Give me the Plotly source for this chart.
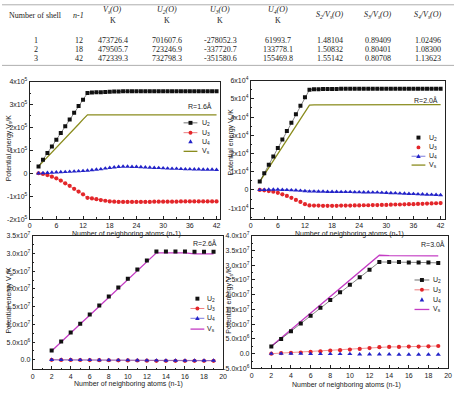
import plotly.graph_objects as go

W, H = 458, 393

# ---------------- table data ----------------
shell = ["1", "2", "3"]
n_minus_1 = ["12", "18", "42"]
Vs_O = ["473726.4", "479505.7", "472339.3"]
U2_O = ["701607.6", "723246.9", "732798.3"]
U3_O = ["-278052.3", "-337720.7", "-351580.6"]
U4_O = ["61993.7", "133778.1", "155469.8"]
S2_Vs = ["1.48104", "1.50832", "1.55142"]
S3_Vs = ["0.89409", "0.80401", "0.80708"]
S4_Vs = ["1.02496", "1.08300", "1.13623"]

# ---------------- chart data ----------------
n_top = list(range(2, 43))
n_bot = list(range(2, 20))

# R = 1.6 A  (units of 1e5 K)
u2_16 = [0.30, 0.59, 0.88, 1.17, 1.46, 1.76, 2.05, 2.35, 2.64, 2.93, 3.21, 3.50,
         3.52, 3.53, 3.54, 3.55, 3.56, 3.57, 3.57, 3.58, 3.58, 3.58, 3.58, 3.58, 3.58,
         3.58, 3.58, 3.58, 3.58, 3.58, 3.58, 3.58, 3.58, 3.58, 3.58, 3.58, 3.58, 3.58,
         3.58, 3.58, 3.58]
u3_16 = [0.00, -0.03, -0.08, -0.15, -0.22, -0.32, -0.44, -0.55, -0.68, -0.80, -0.92, -1.07,
         -1.10, -1.13, -1.17, -1.20, -1.23, -1.24, -1.25, -1.25, -1.25, -1.25, -1.25, -1.25,
         -1.25, -1.25, -1.24, -1.24, -1.24, -1.24, -1.24, -1.24, -1.23, -1.23, -1.23, -1.23,
         -1.23, -1.23, -1.23, -1.23, -1.23]
u4_16 = [0.00, 0.01, 0.02, 0.03, 0.04, 0.05, 0.06, 0.07, 0.08, 0.09, 0.10, 0.12,
         0.14, 0.16, 0.18, 0.21, 0.24, 0.26, 0.28, 0.29, 0.29, 0.28, 0.28, 0.27, 0.26,
         0.25, 0.24, 0.23, 0.22, 0.21, 0.20, 0.20, 0.19, 0.18, 0.18, 0.17, 0.17, 0.16,
         0.16, 0.16, 0.15]
vs_16 = [0.30, 0.50, 0.71, 0.91, 1.12, 1.32, 1.53, 1.73, 1.94, 2.14, 2.35, 2.55,
         2.55, 2.55, 2.56, 2.56, 2.57, 2.57, 2.57, 2.58, 2.58, 2.58, 2.58, 2.57, 2.57,
         2.57, 2.56, 2.56, 2.56, 2.56, 2.56, 2.56, 2.56, 2.56, 2.56, 2.56, 2.56, 2.56,
         2.55, 2.55, 2.55]

# R = 2.0 A  (units of 1e4 K)
u2_20 = [0.46, 0.92, 1.38, 1.84, 2.30, 2.77, 3.23, 3.69, 4.15, 4.62, 5.08, 5.50,
         5.52, 5.53, 5.54, 5.54, 5.54, 5.54, 5.55, 5.55, 5.55, 5.55, 5.55, 5.55, 5.55,
         5.55, 5.55, 5.55, 5.55, 5.55, 5.55, 5.55, 5.55, 5.55, 5.55, 5.55, 5.55, 5.55,
         5.55, 5.55, 5.55]
u3_20 = [0.00, -0.02, -0.06, -0.10, -0.16, -0.24, -0.33, -0.43, -0.55, -0.66, -0.78, -0.85,
         -0.86, -0.86, -0.87, -0.87, -0.87, -0.87, -0.86, -0.86, -0.86, -0.85, -0.85, -0.84,
         -0.84, -0.83, -0.83, -0.82, -0.82, -0.81, -0.80, -0.80, -0.79, -0.78, -0.78, -0.77,
         -0.76, -0.75, -0.74, -0.73, -0.72]
u4_20 = [0.00, 0.01, 0.02, 0.02, 0.02, 0.01, 0.00, -0.01, -0.02, -0.04, -0.06, -0.08,
         -0.08, -0.09, -0.09, -0.10, -0.10, -0.10, -0.11, -0.11, -0.11, -0.12, -0.12, -0.13,
         -0.13, -0.14, -0.14, -0.15, -0.16, -0.17, -0.18, -0.19, -0.20, -0.21, -0.22, -0.23,
         -0.24, -0.25, -0.26, -0.27, -0.28]
vs_20 = [0.46, 0.84, 1.22, 1.60, 1.98, 2.36, 2.74, 3.12, 3.50, 3.88, 4.26, 4.66,
         4.67, 4.67, 4.68, 4.68, 4.68, 4.68, 4.68, 4.68, 4.68, 4.68, 4.68, 4.68, 4.68,
         4.68, 4.68, 4.68, 4.68, 4.68, 4.68, 4.68, 4.68, 4.68, 4.68, 4.68, 4.68, 4.68,
         4.68, 4.68, 4.68]

# R = 2.6 A  (units of 1e7 K)
u2_26 = [0.26, 0.52, 0.77, 1.02, 1.28, 1.53, 1.79, 2.04, 2.29, 2.55, 2.80, 3.06,
         3.06, 3.06, 3.06, 3.05, 3.05, 3.05]
u3_26 = [0.00, -0.002, -0.004, -0.006, -0.008, -0.010, -0.012, -0.015, -0.018, -0.020,
         -0.025, -0.030, -0.030, -0.030, -0.030, -0.030, -0.030, -0.030]
u4_26 = [0.00, 0.00, 0.00, -0.002, -0.004, -0.006, -0.008, -0.010, -0.012, -0.014,
         -0.016, -0.018, -0.020, -0.020, -0.020, -0.020, -0.020, -0.020]
vs_26 = [0.25, 0.51, 0.76, 1.01, 1.26, 1.51, 1.76, 2.01, 2.26, 2.51, 2.77, 3.02,
         3.02, 3.02, 3.02, 2.99, 2.99, 2.99]

# R = 3.0 A  (units of 1e7 K)
u2_30 = [0.24, 0.50, 0.76, 1.02, 1.29, 1.56, 1.82, 2.08, 2.34, 2.59, 2.85, 3.11,
         3.11, 3.11, 3.09, 3.09, 3.09, 3.08]
u3_30 = [0.00, 0.02, 0.03, 0.04, 0.06, 0.08, 0.10, 0.12, 0.14, 0.16, 0.19, 0.22,
         0.23, 0.23, 0.24, 0.24, 0.25, 0.26]
u4_30 = [0.00, 0.00, 0.00, 0.00, -0.01, -0.01, -0.01, -0.01, -0.01, -0.02, -0.02, -0.02,
         -0.02, -0.03, -0.03, -0.03, -0.03, -0.03]
vs_30 = [0.25, 0.53, 0.81, 1.09, 1.38, 1.66, 1.94, 2.22, 2.50, 2.78, 3.06, 3.34,
         3.33, 3.33, 3.32, 3.32, 3.32, 3.32]

# tick labels
ytick_16 = [-2, -1, 0, 1, 2, 3, 4]
ytext_16 = ["-2x10<sup>5</sup>", "-1x10<sup>5</sup>", "0", "1x10<sup>5</sup>",
            "2x10<sup>5</sup>", "3x10<sup>5</sup>", "4x10<sup>5</sup>"]
ytick_20 = [-1, 0, 1, 2, 3, 4, 5, 6]
ytext_20 = ["-1x10<sup>4</sup>", "0", "1x10<sup>4</sup>", "2x10<sup>4</sup>",
            "3x10<sup>4</sup>", "4x10<sup>4</sup>", "5x10<sup>4</sup>", "6x10<sup>4</sup>"]
ytick_26 = [0, 0.5, 1.0, 1.5, 2.0, 2.5, 3.0, 3.5]
ytext_26 = ["0.0", "5.0x10<sup>6</sup>", "1.0x10<sup>7</sup>", "1.5x10<sup>7</sup>",
            "2.0x10<sup>7</sup>", "2.5x10<sup>7</sup>", "3.0x10<sup>7</sup>", "3.5x10<sup>7</sup>"]
ytick_30 = [-0.5, 0, 0.5, 1.0, 1.5, 2.0, 2.5, 3.0, 3.5, 4.0]
ytext_30 = ["-5.0x10<sup>6</sup>", "0.0", "5.0x10<sup>6</sup>", "1.0x10<sup>7</sup>",
            "1.5x10<sup>7</sup>", "2.0x10<sup>7</sup>", "2.5x10<sup>7</sup>",
            "3.0x10<sup>7</sup>", "3.5x10<sup>7</sup>", "4.0x10<sup>7</sup>"]
xtick_top = [0, 6, 12, 18, 24, 30, 36, 42]
xtick_bot = [0, 2, 4, 6, 8, 10, 12, 14, 16, 18, 20]

BLACK = "#111111"
RED = "#e3262a"
BLUE = "#2323c8"
OLIVE = "#8a8c1e"
MAGENTA = "#c43cc4"
TXT = "#222222"
FONT = "Liberation Sans"
SERIF = "Liberation Serif"
FS = 7      # chart text size
TFS = 8     # table text size


def px(x):
    return x / W


def py(y):
    return 1 - y / H


fig = go.Figure()

panels = [
    dict(ax="", x=n_top, u2=u2_16, u3=u3_16, u4=u4_16, vs=vs_16, vcol=OLIVE,
         xr=[0, 42.8], yr=[-2, 4], xd=[28, 221], yd=[79, 219],
         xt=xtick_top, xminor=3, yt=ytick_16, ytx=ytext_16, yminor=0.5,
         modes=("lines+markers", "lines+markers", "markers")),
    dict(ax="2", x=n_top, u2=u2_20, u3=u3_20, u4=u4_20, vs=vs_20, vcol=OLIVE,
         xr=[0, 43], yr=[-1.6, 6.0], xd=[252, 449], yd=[78, 219],
         xt=xtick_top, xminor=3, yt=ytick_20, ytx=ytext_20, yminor=0.5,
         modes=("lines+markers", "markers", "lines+markers")),
    dict(ax="3", x=n_bot, u2=u2_26, u3=u3_26, u4=u4_26, vs=vs_26, vcol=MAGENTA,
         xr=[0, 20], yr=[-0.27, 3.5], xd=[31, 224], yd=[236, 372],
         xt=xtick_bot, xminor=1, yt=ytick_26, ytx=ytext_26, yminor=0.25,
         modes=("markers", "lines+markers", "lines+markers")),
    dict(ax="4", x=n_bot, u2=u2_30, u3=u3_30, u4=u4_30, vs=vs_30, vcol=MAGENTA,
         xr=[0, 20], yr=[-0.5, 4.0], xd=[253, 452], yd=[236, 371],
         xt=xtick_bot, xminor=1, yt=ytick_30, ytx=ytext_30, yminor=0.25,
         modes=("lines+markers", "lines+markers", "markers")),
]

layout_axes = {}
for p in panels:
    xa = "x" + p["ax"]
    ya = "y" + p["ax"]
    m2, m3, m4 = p["modes"]
    fig.add_trace(go.Scatter(x=p["x"], y=p["vs"], mode="lines", xaxis=xa, yaxis=ya,
                             line=dict(color=p["vcol"], width=1.3), showlegend=False))
    fig.add_trace(go.Scatter(x=p["x"], y=p["u2"], mode=m2, xaxis=xa, yaxis=ya,
                             line=dict(color=BLACK, width=0.5),
                             marker=dict(symbol="square", size=4, color=BLACK),
                             showlegend=False))
    fig.add_trace(go.Scatter(x=p["x"], y=p["u3"], mode=m3, xaxis=xa, yaxis=ya,
                             line=dict(color=RED, width=0.5),
                             marker=dict(symbol="circle", size=4.2, color=RED),
                             showlegend=False))
    fig.add_trace(go.Scatter(x=p["x"], y=p["u4"], mode=m4, xaxis=xa, yaxis=ya,
                             line=dict(color=BLUE, width=0.5),
                             marker=dict(symbol="triangle-up", size=4.5, color=BLUE),
                             showlegend=False))

    common = dict(showline=True, linecolor=TXT, linewidth=0.8, mirror=True,
                  ticks="inside", ticklen=3, tickwidth=0.6, tickcolor=TXT,
                  showgrid=False, zeroline=False,
                  tickfont=dict(family=FONT, size=FS, color=TXT))
    xminor_vals = []
    v = p["xr"][0]
    while v <= p["xr"][1] + 1e-9:
        xminor_vals.append(v)
        v += p["xminor"]
    yminor_vals = []
    v = p["yt"][0] - p["yminor"]
    while v <= p["yr"][1] + 1e-9:
        if v >= p["yr"][0]:
            yminor_vals.append(round(v, 4))
        v += p["yminor"]
    xkey = "xaxis" + p["ax"]
    ykey = "yaxis" + p["ax"]
    layout_axes[xkey] = dict(common, domain=[px(p["xd"][0]), px(p["xd"][1])],
                             range=p["xr"], anchor=ya, tickmode="array",
                             tickvals=p["xt"], ticktext=[str(t) for t in p["xt"]],
                             minor=dict(tickmode="array", tickvals=xminor_vals,
                                        ticks="inside", ticklen=1.8, tickwidth=0.5,
                                        tickcolor=TXT))
    layout_axes[ykey] = dict(common, domain=[py(p["yd"][1]), py(p["yd"][0])],
                             range=p["yr"], anchor=xa, tickmode="array",
                             tickvals=p["yt"], ticktext=p["ytx"],
                             minor=dict(tickmode="array", tickvals=yminor_vals,
                                        ticks="inside", ticklen=1.8, tickwidth=0.5,
                                        tickcolor=TXT))

annotations = []
shapes = []

# ---------------- table ----------------
col_x = [34, 78, 112, 167, 221, 280, 332, 381, 432]
table_ann = []
table_ann.append(dict(text="Number of shell", x=px(col_x[0]), y=py(11.5)))
table_ann.append(dict(text="<i>n-1</i>", x=px(col_x[1]), y=py(11.5)))
for cx, lab in zip(col_x[2:6], ["V<sub>s</sub>(O)", "U<sub>2</sub>(O)",
                                  "U<sub>3</sub>(O)", "U<sub>4</sub>(O)"]):
    table_ann.append(dict(text="<i>" + lab + "</i>", x=px(cx), y=py(6)))
    table_ann.append(dict(text="K", x=px(cx), y=py(16.5)))
for cx, lab in zip(col_x[6:], ["S<sub>2</sub>/V<sub>s</sub>(O)",
                                "S<sub>3</sub>/V<sub>s</sub>(O)",
                                "S<sub>4</sub>/V<sub>s</sub>(O)"]):
    table_ann.append(dict(text="<i>" + lab + "</i>", x=px(cx), y=py(11.5)))
row_y = [37, 46, 55]
cols = [shell, n_minus_1, Vs_O, U2_O, U3_O, U4_O, S2_Vs, S3_Vs, S4_Vs]
for cx, col in zip(col_x, cols):
    for ry, val in zip(row_y, col):
        table_ann.append(dict(text=val, x=px(cx), y=py(ry)))
for a in table_ann:
    a.update(xref="paper", yref="paper", showarrow=False, xanchor="center",
             yanchor="middle", font=dict(family=SERIF, size=TFS, color=TXT))
annotations.extend(table_ann)
for ly in [0.8, 62.5]:
    shapes.append(dict(type="line", xref="paper", yref="paper", x0=0, x1=1,
                       y0=py(ly), y1=py(ly), line=dict(color="#999999", width=0.8)))


def txt(text, x, y, size=FS, angle=0, xanchor="center"):
    annotations.append(dict(text=text, x=px(x), y=py(y), xref="paper", yref="paper",
                            showarrow=False, xanchor=xanchor, yanchor="middle",
                            textangle=angle, font=dict(family=FONT, size=size, color=TXT)))


# axis titles
ytitle = "Potential energy V<sub>s</sub>/K"
xtitle = "Number of neighboring atoms (n-1)"
txt(ytitle, 7, 146, angle=-90)
txt(ytitle, 232, 140, angle=-90)
txt(ytitle, 7, 301, angle=-90)
txt(ytitle, 230, 301, angle=-90)
txt(xtitle, 126, 234)
txt(xtitle, 352, 234)
txt(xtitle, 128, 387)
txt(xtitle, 349, 388)

# panel labels
txt("R=1.6Å", 201, 104)
txt("R=2.0Å", 430, 98)
txt("R=2.6Å", 206, 243)
txt("R=3.0Å", 437, 244)


# legends (drawn as decoration)
def legend_item(x0, x1, y, color, sym, line, lw, label, lx):
    xc = (x0 + x1) / 2
    if line:
        shapes.append(dict(type="line", xref="paper", yref="paper", x0=px(x0), x1=px(x1),
                           y0=py(y), y1=py(y), line=dict(color=color, width=lw)))
    r = 2.0
    if sym == "square":
        shapes.append(dict(type="rect", xref="paper", yref="paper", x0=px(xc - r),
                           x1=px(xc + r), y0=py(y + r), y1=py(y - r),
                           fillcolor=color, line=dict(width=0)))
    elif sym == "circle":
        shapes.append(dict(type="circle", xref="paper", yref="paper", x0=px(xc - r),
                           x1=px(xc + r), y0=py(y + r), y1=py(y - r),
                           fillcolor=color, line=dict(width=0)))
    elif sym == "triangle":
        path = "M {} {} L {} {} L {} {} Z".format(px(xc - 2.3), py(y + 1.8),
                                                   px(xc + 2.3), py(y + 1.8),
                                                   px(xc), py(y - 2.4))
        shapes.append(dict(type="path", xref="paper", yref="paper", path=path,
                           fillcolor=color, line=dict(width=0)))
    txt(label, lx, y, xanchor="left")


def legend(x0, x1, ys, flags, vcol, lx):
    items = [(BLACK, "square", "U<sub>2</sub>"), (RED, "circle", "U<sub>3</sub>"),
             (BLUE, "triangle", "U<sub>4</sub>")]
    for (c, s, lab), y, f in zip(items, ys[:3], flags):
        legend_item(x0, x1, y, c, s, f, 0.6, lab, lx)
    legend_item(x0, x1, ys[3], vcol, None, True, 1.3, "V<sub>s</sub>", lx)


legend(184, 198, [121, 131, 140, 150], (True, True, False), OLIVE, 201)
legend(415, 429, [136, 146, 155, 164], (False, False, True), OLIVE, 431)
legend(191, 205, [300, 310, 320, 331], (False, True, True), MAGENTA, 206)
legend(418, 433, [281, 291, 301, 311], (True, True, False), MAGENTA, 435)

fig.update_layout(width=W, height=H, margin=dict(l=0, r=0, t=0, b=0),
                  paper_bgcolor="white", plot_bgcolor="white",
                  font=dict(family=FONT, size=FS, color=TXT),
                  annotations=annotations, shapes=shapes, **layout_axes)

fig.write_html("out.html")
